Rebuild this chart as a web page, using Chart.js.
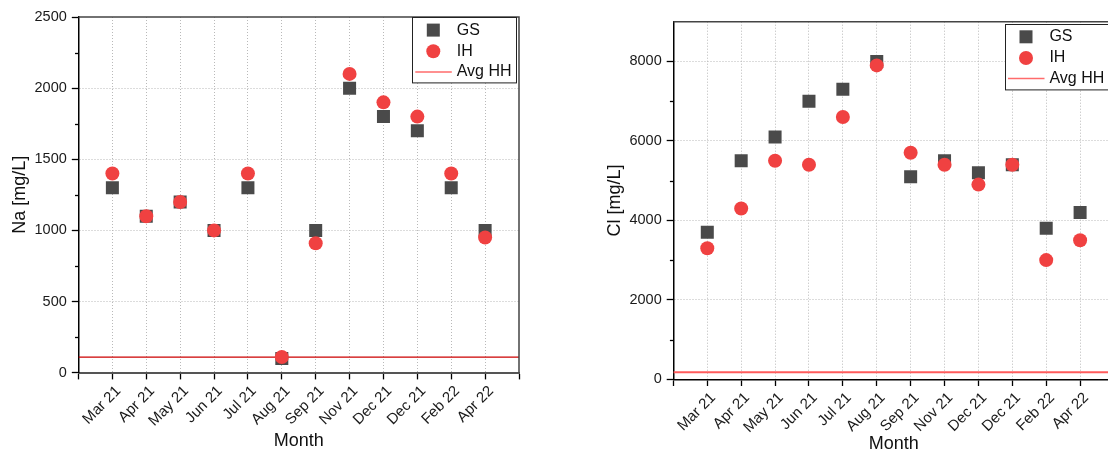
<!DOCTYPE html>
<html><head><meta charset="utf-8">
<script src="https://cdn.jsdelivr.net/npm/chart.js@4.4.0/dist/chart.umd.min.js"></script>
<style>
html,body{margin:0;padding:0;overflow:hidden;background:#fff;width:1108px;height:452px;position:relative;}
#w1{position:absolute;left:0;top:0;width:554px;height:452px;}
#w2{position:absolute;left:554px;top:0;width:620px;height:456px;}
</style></head><body>
<div id="w1"><canvas id="c1"></canvas></div>
<div id="w2"><canvas id="c2"></canvas></div>
<script>
// ---- data ----
const months = ['Mar 21','Apr 21','May 21','Jun 21','Jul 21','Aug 21','Sep 21','Nov 21','Dec 21','Dec 21','Feb 22','Apr 22'];
const naGS = [1300,1100,1200,1000,1300,100,1000,2000,1800,1700,1300,1000];
const naIH = [1400,1100,1200,1000,1400,110,910,2100,1900,1800,1400,950];
const naAvgHH = 110;
const clGS = [3700,5500,6100,7000,7300,8000,5100,5500,5200,5400,3800,4200];
const clIH = [3300,4300,5500,5400,6600,7900,5700,5400,4900,5400,3000,3500];
const clAvgHH = 180;
const naMajorTicks = [0,500,1000,1500,2000,2500];
const naMinorTicks = [250,750,1250,1750,2250];
const clMajorTicks = [0,2000,4000,6000,8000];
const clMinorTicks = [1000,3000,5000,7000];
const seriesNames = ['GS','IH','Avg HH'];

// ---- style ----
Chart.defaults.font.family = "'Liberation Sans', Arial, sans-serif";
Chart.defaults.color = '#1a1a1a';
const GS_COLOR = '#4a4a4a';
const IH_COLOR = '#f04141';
const GRID = '#b9b9b9';
const xMax = months.length + 1;

const decor = {
  id: 'decor',
  afterDraw(chart, args, o) {
    const {ctx, chartArea: a, scales: {y}} = chart;
    ctx.save();
    ctx.strokeStyle = o.frameColor; ctx.lineWidth = o.frameWidth;
    ctx.beginPath(); ctx.moveTo(a.left, a.top); ctx.lineTo(a.right, a.top); ctx.lineTo(a.right, a.bottom); ctx.stroke();
    ctx.strokeStyle = '#000'; ctx.lineWidth = 1.3;
    o.minor.forEach(v => {
      const py = Math.round(y.getPixelForValue(v)) + 0.5;
      ctx.beginPath(); ctx.moveTo(a.left - 3.5, py); ctx.lineTo(a.left, py); ctx.stroke();
    });
    // legend box
    const bx = a.right + o.legendDx, by = a.top + o.legendDy, bw = o.legendW, bh = 65.4;
    ctx.fillStyle = '#fff';
    ctx.fillRect(bx, by, bw, bh);
    ctx.strokeStyle = '#222'; ctx.lineWidth = 1;
    ctx.strokeRect(Math.round(bx) + 0.5, Math.round(by) + 0.5, bw, bh);
    const rows = [12.8, 34, 54.6];
    const ds = chart.data.datasets;
    const mx = bx + 21;
    ctx.fillStyle = ds[0].backgroundColor;
    ctx.fillRect(mx - 6.5, by + rows[0] - 6.5, 13, 13);
    ctx.fillStyle = ds[1].backgroundColor;
    ctx.beginPath(); ctx.arc(mx, by + rows[1], 7, 0, Math.PI * 2); ctx.fill();
    ctx.strokeStyle = '#ff6b6b'; ctx.lineWidth = 1.5;
    ctx.beginPath(); ctx.moveTo(bx + 3, by + rows[2]); ctx.lineTo(bx + 39.5, by + rows[2]); ctx.stroke();
    ctx.fillStyle = '#111';
    ctx.font = "16px 'Liberation Sans', Arial, sans-serif";
    ctx.textBaseline = 'middle'; ctx.textAlign = 'left';
    ds.forEach((d, i) => ctx.fillText(d.label, bx + 44.4, by + rows[i]));
    ctx.restore();
  }
};

function makeChart(id, cfg) {
  const pts = arr => arr.map((v, i) => ({x: i + 1, y: v}));
  return new Chart(document.getElementById(id), {
    type: 'scatter',
    data: {
      datasets: [
        {label: seriesNames[0], data: pts(cfg.gs), backgroundColor: GS_COLOR, borderWidth: 0, pointStyle: 'rect', pointRadius: 9.2, order: 2},
        {label: seriesNames[1], data: pts(cfg.ih), backgroundColor: IH_COLOR, borderWidth: 0, pointStyle: 'circle', pointRadius: 7, order: 1},
        {label: seriesNames[2], type: 'line', data: [{x: 0, y: cfg.avg}, {x: xMax, y: cfg.avg}], borderColor: cfg.avgColor, borderWidth: cfg.avgWidth, pointRadius: 0, order: 3}
      ]
    },
    options: {
      responsive: true, maintainAspectRatio: false, animation: false, devicePixelRatio: 1,
      layout: {padding: cfg.padding},
      plugins: {legend: {display: false}, tooltip: {enabled: false},
        decor: {frameColor: '#444', frameWidth: 1.5, minor: cfg.minor, legendDx: cfg.legendDx, legendDy: cfg.legendDy, legendW: cfg.legendW}},
      scales: {
        x: {
          type: 'linear', min: 0, max: xMax,
          afterBuildTicks: s => { s.ticks = Array.from({length: xMax + 1}, (_, i) => ({value: i})); },
          afterFit: s => { s.height = cfg.xAxisHeight; },
          ticks: {autoSkip: false, minRotation: 45, maxRotation: 45, padding: 3, labelOffset: 6, font: {size: 15}, color: '#1a1a1a',
            callback: v => months[v - 1] || ''},
          grid: {color: c => (c.tick && (c.tick.value === 0 || c.tick.value === xMax)) ? 'rgba(0,0,0,0)' : GRID,
            lineWidth: 1, tickLength: 6.7, tickColor: '#000', tickWidth: 1.3, tickBorderDash: []},
          border: {color: cfg.xBorderColor, width: cfg.xBorderWidth, dash: [1, 2]},
          title: {display: true, text: 'Month', font: {size: 18}, color: '#111', padding: {top: 0, bottom: cfg.xTitlePad}}
        },
        y: {
          min: 0, max: cfg.yMax,
          afterBuildTicks: s => { s.ticks = cfg.major.map(v => ({value: v})); },
          afterFit: s => { s.width = cfg.yAxisWidth; },
          ticks: {padding: 5, font: {size: 14.5}, color: '#1a1a1a', callback: v => String(v)},
          grid: {color: c => (c.tick && (c.tick.value === 0 || c.tick.value === cfg.yMax)) ? 'rgba(0,0,0,0)' : GRID,
            lineWidth: 1, tickLength: 6.7, tickColor: '#000', tickWidth: 1.3, tickBorderDash: []},
          border: {color: '#000', width: 1.5, dash: [1, 2]},
          title: {display: true, text: cfg.yTitle, font: {size: 18}, color: '#111', padding: {top: cfg.yTitlePad, bottom: 0}}
        }
      }
    },
    plugins: [decor]
  });
}

makeChart('c1', {
  gs: naGS, ih: naIH, avg: naAvgHH, avgColor: '#cc0000', avgWidth: 1.2,
  yMax: 2500, major: naMajorTicks, minor: naMinorTicks, yTitle: 'Na [mg/L]',
  padding: {left: 0, top: 17, right: 35, bottom: 0},
  yAxisWidth: 78.5, xAxisHeight: 79.3, xTitlePad: 0, yTitlePad: 9.4,
  xBorderColor: '#555', xBorderWidth: 2, legendDx: -106.7, legendDy: 0.3, legendW: 104
});
makeChart('c2', {
  gs: clGS, ih: clIH, avg: clAvgHH, avgColor: '#ff5c5c', avgWidth: 2,
  yMax: 9000, major: clMajorTicks, minor: clMinorTicks, yTitle: 'Cl [mg/L]',
  padding: {left: 0, top: 21.7, right: 60, bottom: 0},
  yAxisWidth: 119.4, xAxisHeight: 76.7, xTitlePad: 1, yTitlePad: 50.6,
  xBorderColor: '#000', xBorderWidth: 1.5, legendDx: -109, legendDy: 2.3, legendW: 120
});
</script>
</body></html>
